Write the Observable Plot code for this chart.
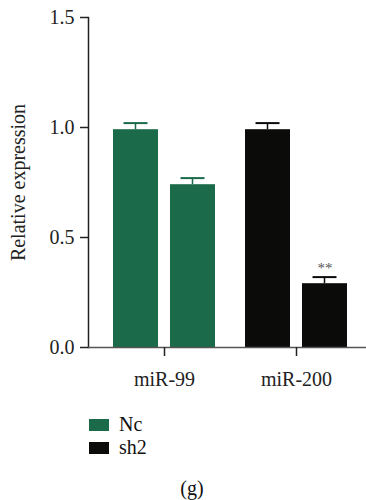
<!DOCTYPE html>
<html>
<head>
<meta charset="utf-8">
<script src="https://cdn.jsdelivr.net/npm/d3@7"></script>
<script src="https://cdn.jsdelivr.net/npm/@observablehq/plot@0.6"></script>
<style>
  html, body { margin: 0; padding: 0; background: #fff; }
  body { width: 366px; font-family: "Liberation Serif", serif; color: #111; }
  #legend { margin-top: 13px; margin-left: 89px; }
  .row { display: flex; align-items: center; height: 23px; font-size: 20px; line-height: 23px; }
  .sw { width: 20px; height: 12px; margin-right: 10px; }
  #caption { margin-top: 18px; padding-left: 18px; text-align: center; font-size: 20px; line-height: 23px; }
</style>
</head>
<body>
<div id="chart"></div>
<div id="legend"></div>
<div id="caption"></div>
<script>
// ---- data ----
const categories = ["miR-99", "miR-200"];
const series = ["Nc", "sh2"];
const seriesColors = ["#1b6b4a", "#0b0b0a"];
// colour group used by each category in the picture
const categoryColorKey = ["Nc", "sh2"];
const ncValues = [0.99, 0.99];
const sh2Values = [0.74, 0.29];
const ncErrors = [0.03, 0.03];
const sh2Errors = [0.03, 0.03];
const sh2Notes = ["", "**"];
const yTicks = [0, 0.5, 1.0, 1.5];
const yLabel = "Relative expression";
const captionText = "(g)";

const rows = [];
categories.forEach((c, i) => {
  rows.push({category: c, series: "Nc", value: ncValues[i], err: ncErrors[i], colorKey: categoryColorKey[i], note: ""});
  rows.push({category: c, series: "sh2", value: sh2Values[i], err: sh2Errors[i], colorKey: categoryColorKey[i], note: sh2Notes[i]});
});
const ncRows = rows.filter(d => d.series === "Nc");
const sh2Rows = rows.filter(d => d.series === "sh2");
const errTop = d => d.value + d.err;

const plot = Plot.plot({
  width: 366,
  height: 400,
  marginTop: 17,
  marginBottom: 53,
  marginLeft: 88,
  marginRight: 0,
  style: {fontFamily: "Liberation Serif", fontSize: "20px", color: "#222", background: "#fff"},
  x: {type: "band", domain: categories, range: [113, 347], paddingInner: 0.2273, paddingOuter: 0, round: false, label: null},
  y: {domain: [0, 1.5], label: null},
  color: {domain: series, range: seriesColors},
  marks: [
    Plot.barY(ncRows, {x: "category", y: "value", fill: "colorKey", insetRight: 57}),
    Plot.barY(sh2Rows, {x: "category", y: "value", fill: "colorKey", insetLeft: 57}),
    Plot.barY(ncRows, {x: "category", y1: "value", y2: errTop, fill: "colorKey", insetLeft: 21.75, insetRight: 78.75}),
    Plot.barY(sh2Rows, {x: "category", y1: "value", y2: errTop, fill: "colorKey", insetLeft: 78.75, insetRight: 21.75}),
    Plot.tickY(ncRows, {x: "category", y: errTop, stroke: "colorKey", strokeWidth: 2, insetLeft: 10.5, insetRight: 67.5}),
    Plot.tickY(sh2Rows, {x: "category", y: errTop, stroke: "colorKey", strokeWidth: 2, insetLeft: 67.5, insetRight: 10.5}),
    Plot.text(sh2Rows.filter(d => d.note), {x: "category", y: errTop, text: "note", dx: 28.5, dy: -4, lineAnchor: "bottom", fontSize: 15, fill: "#555"}),
    Plot.frame({anchor: "left", stroke: "#222", strokeWidth: 1.5}),
    Plot.frame({anchor: "bottom", stroke: "#555", strokeWidth: 1.5}),
    Plot.axisY({ticks: yTicks, tickFormat: d3.format(".1f"), tickSize: 8, tickPadding: 6, strokeWidth: 1.5,
      label: yLabel, labelAnchor: "center", labelOffset: 78, labelArrow: false}),
    Plot.axisX({tickSize: 9, tickPadding: 15, strokeWidth: 1.5, label: null})
  ]
});
document.getElementById("chart").appendChild(plot);

const legend = document.getElementById("legend");
series.forEach((s, i) => {
  const row = document.createElement("div");
  row.className = "row";
  const sw = document.createElement("span");
  sw.className = "sw";
  sw.style.background = seriesColors[i];
  const t = document.createElement("span");
  t.textContent = s;
  row.appendChild(sw);
  row.appendChild(t);
  legend.appendChild(row);
});
document.getElementById("caption").textContent = captionText;
</script>
</body>
</html>
